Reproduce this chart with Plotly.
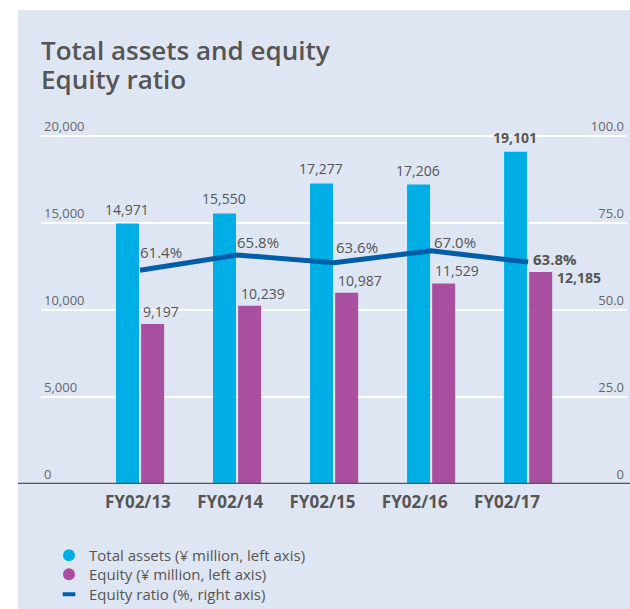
import plotly.graph_objects as go

categories = ["FY02/13", "FY02/14", "FY02/15", "FY02/16", "FY02/17"]
total_assets = [14971, 15550, 17277, 17206, 19101]
equity = [9197, 10239, 10987, 11529, 12185]
equity_ratio = [61.4, 65.8, 63.6, 67.0, 63.8]

left_ticks = [0, 5000, 10000, 15000, 20000]
right_ticks = [0, 25, 50, 75, 100]
right_tick_labels = ["0", "25.0", "50.0", "75.0", "100.0"]
title_lines = ["Total assets and equity", "Equity ratio"]
legend_names = ["Total assets (¥ million, left axis)",
                "Equity (¥ million, left axis)",
                "Equity ratio (%, right axis)"]

C_ASSET = "#00AEE6"
C_EQUITY = "#A8509F"
C_RATIO = "#005DAA"
C_PANEL = "#DFE6F3"
C_TEXT = "#555555"
FONT = "Open Sans"

def fmt(v, last):
    s = f"{v:,}"
    return f"<b>{s}</b>" if last else s

n = len(categories)
fig = go.Figure()

fig.add_trace(go.Bar(
    x=categories, y=total_assets, marker_color=C_ASSET, marker_line_width=0,
    offset=-0.247, width=0.237, showlegend=False, hoverinfo="skip"))
fig.add_trace(go.Bar(
    x=categories, y=equity, marker_color=C_EQUITY, marker_line_width=0,
    offset=0.012, width=0.237, showlegend=False, hoverinfo="skip"))
fig.add_trace(go.Scatter(
    x=categories, y=equity_ratio, yaxis="y2", mode="lines",
    line=dict(color=C_RATIO, width=5), showlegend=False, hoverinfo="skip"))
# dummy trace for the category label axis
fig.add_trace(go.Scatter(x=categories, y=[None] * n, xaxis="x2", mode="markers",
                         showlegend=False, hoverinfo="skip"))

# legend entries (one legend each, for exact spacing)
fig.add_trace(go.Scatter(x=[None], y=[None], mode="markers", name=legend_names[0], legend="legend",
                         marker=dict(symbol="circle", size=12, color=C_ASSET)))
fig.add_trace(go.Scatter(x=[None], y=[None], mode="markers", name=legend_names[1], legend="legend2",
                         marker=dict(symbol="circle", size=12, color=C_EQUITY)))
fig.add_trace(go.Scatter(x=[None], y=[None], mode="markers", name=legend_names[2], legend="legend3",
                         marker=dict(symbol="line-ew-open", size=9, color=C_RATIO,
                                     line=dict(color=C_RATIO, width=4))))

# total assets labels
for i, (c, v) in enumerate(zip(categories, total_assets)):
    fig.add_annotation(x=c, y=v, xref="x", yref="y", text=fmt(v, i == n - 1),
                       showarrow=False, xanchor="center", yanchor="bottom",
                       xshift=-13, yshift=3,
                       font=dict(family=FONT, size=14, color=C_TEXT))
# equity labels
eq_dx = [1, 2, 2, 2, 27]
eq_dy = [1, 1, 1, 1, -17]
for i, (c, v) in enumerate(zip(categories, equity)):
    fig.add_annotation(x=c, y=v, xref="x", yref="y", text=fmt(v, i == n - 1),
                       showarrow=False, xanchor="left", yanchor="bottom",
                       xshift=eq_dx[i], yshift=eq_dy[i],
                       font=dict(family=FONT, size=14, color=C_TEXT))
# ratio labels
r_dx = [-2, -2, 0, 1, 3]
r_dy = [18.6, 13.3, 16, 9.1, 2.7]
for i, (c, v) in enumerate(zip(categories, equity_ratio)):
    t = f"{v:.1f}%"
    if i == n - 1:
        t = f"<b>{t}</b>"
    fig.add_annotation(x=c, y=v, xref="x", yref="y2", text=t,
                       showarrow=False, xanchor="left", yanchor="middle",
                       xshift=r_dx[i], yshift=r_dy[i],
                       font=dict(family=FONT, size=15, color=C_TEXT))

W, H = 630, 609
L, R, T, B = 41, 3, 116, 125
pw, ph = W - L - R, H - T - B
grid_px = 348.0  # pixel height of 0..20,000
y_max = 20000 * ph / grid_px
y2_max = 100 * ph / grid_px

# title lines
for k, line in enumerate(title_lines):
    fig.add_annotation(xref="paper", yref="paper", x=0, xanchor="left", xshift=-2,
                       y=1 + (T - (50 + 29 * k)) / ph, yanchor="middle",
                       text=line, showarrow=False,
                       font=dict(family=FONT, size=26, color=C_TEXT, weight=600))

# panel background
fig.add_shape(type="rect", xref="paper", yref="paper", layer="below",
              x0=(18 - L) / pw, x1=1 + R / pw, y0=-B / ph, y1=1 + (T - 10) / ph,
              fillcolor=C_PANEL, line_width=0)
# baseline
fig.add_shape(type="line", xref="paper", yref="y", x0=(18 - L) / pw, x1=1 + R / pw,
              y0=0, y1=0, line=dict(color="#555555", width=2.5), layer="above")

def legend_at(top_px):
    return dict(x=(49 - L) / pw, xanchor="left", y=-(top_px - (T + ph)) / ph, yanchor="top",
                bgcolor="rgba(0,0,0,0)", font=dict(family=FONT, size=15, color=C_TEXT),
                itemwidth=30)

fig.update_layout(
    width=W, height=H,
    margin=dict(l=L, r=R, t=T, b=B, pad=0, autoexpand=False),
    paper_bgcolor="white", plot_bgcolor=C_PANEL,
    font=dict(family=FONT, color=C_TEXT),
    barmode="overlay",
    xaxis=dict(type="category", range=[-1.02, 5.02], showticklabels=False,
               showgrid=False, zeroline=False, showline=False, ticks=""),
    xaxis2=dict(type="category", overlaying="x", side="bottom", range=[-1.05, 5.30],
                showgrid=False, zeroline=False, showline=False, ticks="",
                tickfont=dict(family=FONT, size=17, color=C_TEXT, weight="bold"),
                ticklabelstandoff=6),
    yaxis=dict(range=[0, y_max], tickvals=left_ticks, tickformat=",",
               ticklabelposition="inside top", showgrid=True, gridcolor="white",
               gridwidth=1.5, zeroline=False, showline=False, ticks="",
               tickfont=dict(family=FONT, size=13, color="#666666")),
    yaxis2=dict(range=[0, y2_max], overlaying="y", side="right", tickvals=right_ticks,
                ticktext=right_tick_labels, ticklabelposition="inside top",
                showgrid=False, zeroline=False, showline=False, ticks="",
                tickfont=dict(family=FONT, size=13, color="#666666")),
    legend=legend_at(539),
    legend2=legend_at(558),
    legend3=legend_at(578),
)

fig.write_html("out.html", post_script="document.body.style.margin='0';",
               config={"displayModeBar": False})
